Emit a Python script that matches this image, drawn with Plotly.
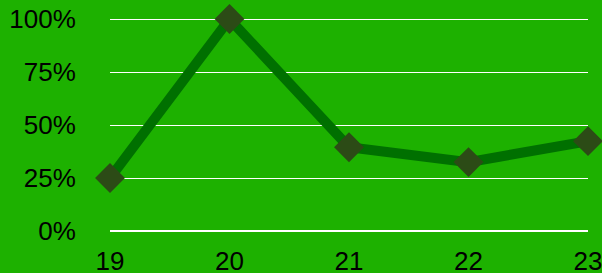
import plotly.graph_objects as go

categories = [19, 20, 21, 22, 23]
values = [0.25, 1.00, 0.395, 0.325, 0.424]
y_ticks = [0, 0.25, 0.5, 0.75, 1.0]
y_tick_labels = ["0%", "25%", "50%", "75%", "100%"]

bg = "#1db100"

fig = go.Figure()
fig.add_trace(go.Scatter(
    x=categories, y=values, mode="lines+markers",
    line=dict(color="#007000", width=10),
    marker=dict(symbol="diamond", size=23, color="#2c4b16"),
    cliponaxis=False,
))

fig.update_layout(
    width=602, height=273,
    paper_bgcolor=bg, plot_bgcolor=bg,
    margin=dict(l=110, r=14, t=18, b=42, autoexpand=False),
    showlegend=False,
    font=dict(family="Liberation Sans, Arial, sans-serif", size=26, color="#000000"),
    xaxis=dict(
        range=[19, 23], tickvals=categories, ticktext=[str(c) for c in categories],
        showgrid=False, zeroline=False, showline=False, automargin=False,
        ticks="outside", ticklen=7, tickcolor="rgba(0,0,0,0)",
        ticklabeloverflow="allow",
    ),
    yaxis=dict(
        range=[0, 1.005], tickvals=y_ticks, ticktext=y_tick_labels,
        showgrid=True, gridcolor="#ffffff", gridwidth=1, automargin=False,
        zeroline=True, zerolinecolor="#ffffff", zerolinewidth=2,
        ticks="outside", ticklen=28, tickcolor="rgba(0,0,0,0)",
    ),
)

fig.write_html("out.html", config={"displayModeBar": False})
with open("out.html", "r", encoding="utf-8") as f:
    html = f.read()
html = html.replace("<body>", '<body style="margin:0;padding:0;overflow:hidden">', 1)
with open("out.html", "w", encoding="utf-8") as f:
    f.write(html)
